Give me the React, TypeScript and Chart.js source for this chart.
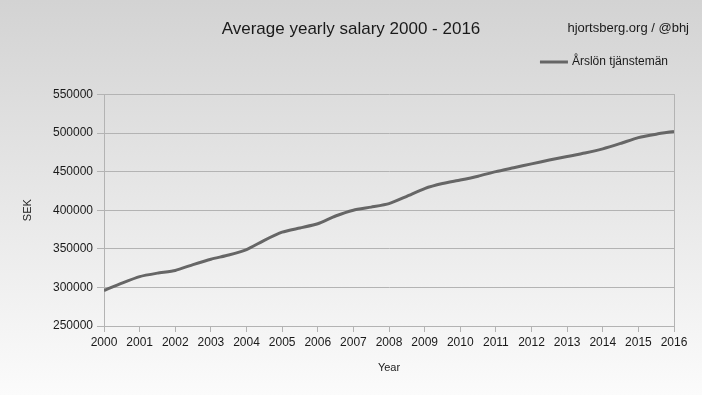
import React, { useEffect, useRef } from "react";
import { Chart, registerables } from "chart.js";

Chart.register(...registerables);

const TITLE = "Average yearly salary 2000 - 2016";
const WATERMARK = "hjortsberg.org / @bhj";
const SERIES_LABEL = "Årslön tjänstemän";
const X_TITLE = "Year";
const Y_TITLE = "SEK";

const years: number[] = [
  2000, 2000.5, 2001, 2001.5, 2002, 2002.5, 2003, 2003.5, 2004, 2004.5,
  2005, 2005.5, 2006, 2006.5, 2007, 2007.5, 2008, 2008.5, 2009, 2009.5,
  2010, 2010.5, 2011, 2011.5, 2012, 2012.5, 2013, 2013.5, 2014, 2014.5,
  2015, 2015.5, 2016,
];

const salary: number[] = [
  296000, 305500, 314000, 318500, 322000, 329500, 336500, 342000, 349000, 361000,
  371500, 377000, 382500, 392500, 400000, 404000, 408500, 418000, 428000, 434500,
  439000, 444000, 450000, 455000, 460000, 465000, 469500, 474000, 479500, 486500,
  494000, 498500, 502000,
];

const Y_MIN = 250000;
const Y_MAX = 550000;
const Y_STEP = 50000;
const X_MIN = 2000;
const X_MAX = 2016;

const FONT = "'Liberation Sans', Arial, sans-serif";
const GRID = "#b3b3b3";
const LINE = "#666666";

const headerPlugin = {
  id: "header",
  afterDraw(chart: any) {
    const ctx = chart.ctx as CanvasRenderingContext2D;
    const w = chart.width;
    ctx.save();
    ctx.fillStyle = "#1a1a1a";
    ctx.textBaseline = "middle";
    ctx.textAlign = "right";
    ctx.font = `13px ${FONT}`;
    ctx.fillText(WATERMARK, w - 13, 28);
    ctx.font = `12px ${FONT}`;
    const label = chart.data.datasets[0].label as string;
    const textRight = w - 34;
    const tw = ctx.measureText(label).width;
    ctx.fillText(label, textRight, 62);
    const lineEnd = textRight - tw - 4;
    ctx.strokeStyle = LINE;
    ctx.lineWidth = 3;
    ctx.beginPath();
    ctx.moveTo(lineEnd - 28, 62);
    ctx.lineTo(lineEnd, 62);
    ctx.stroke();
    ctx.restore();
  },
};

export default function App() {
  const ref = useRef<HTMLCanvasElement | null>(null);
  useEffect(() => {
    if (!ref.current) return;
    const chart = new Chart(ref.current, {
      type: "line",
      data: {
        datasets: [
          {
            label: SERIES_LABEL,
            data: years.map((y, i) => ({ x: y, y: salary[i] })),
            borderColor: LINE,
            backgroundColor: LINE,
            borderWidth: 3,
            pointRadius: 0,
            tension: 0.2,
            yAxisID: "y",
          },
        ],
      },
      options: {
        responsive: false,
        animation: false,
        layout: { padding: 0 },
        plugins: {
          legend: { display: false },
          tooltip: { enabled: false },
          title: {
            display: true,
            text: TITLE,
            color: "#1a1a1a",
            font: { family: FONT, size: 17, weight: "normal" },
            padding: { top: 19, bottom: 55 },
          },
        },
        scales: {
          x: {
            type: "linear",
            min: X_MIN,
            max: X_MAX,
            afterFit(scale: any) {
              scale.height = 69;
            },
            ticks: {
              stepSize: 1,
              color: "#1a1a1a",
              font: { family: FONT, size: 12 },
              padding: 3,
              maxRotation: 0,
              autoSkip: false,
              callback: (v: any) => String(v),
            },
            grid: {
              drawOnChartArea: false,
              color: GRID,
              tickColor: GRID,
              tickLength: 6,
            },
            border: { display: true, color: GRID },
            title: {
              display: true,
              text: X_TITLE,
              color: "#1a1a1a",
              font: { family: FONT, size: 11 },
              padding: { top: 0, bottom: 20 },
            },
          },
          y: {
            min: Y_MIN,
            max: Y_MAX,
            afterFit(scale: any) {
              scale.width = 104;
            },
            ticks: {
              stepSize: Y_STEP,
              color: "#1a1a1a",
              font: { family: FONT, size: 12 },
              padding: 4,
              callback: (v: any) => String(v),
            },
            grid: {
              color: GRID,
              tickColor: GRID,
              tickLength: 7,
            },
            border: { display: true, color: GRID },
            title: {
              display: true,
              text: Y_TITLE,
              color: "#1a1a1a",
              font: { family: FONT, size: 11 },
              padding: { top: 21, bottom: 0 },
            },
          },
          yRight: {
            position: "right",
            min: Y_MIN,
            max: Y_MAX,
            afterFit(scale: any) {
              scale.width = 28;
            },
            ticks: { display: false },
            grid: { display: false },
            border: { display: true, color: GRID },
          },
        },
      },
      plugins: [headerPlugin],
    });
    return () => chart.destroy();
  }, []);
  return (
    <div
      style={{
        position: "fixed",
        left: 0,
        top: 0,
        width: 702,
        height: 395,
        background: "linear-gradient(#d3d3d3, #fbfbfb)",
      }}
    >
      <canvas ref={ref} width={702} height={395} />
    </div>
  );
}
